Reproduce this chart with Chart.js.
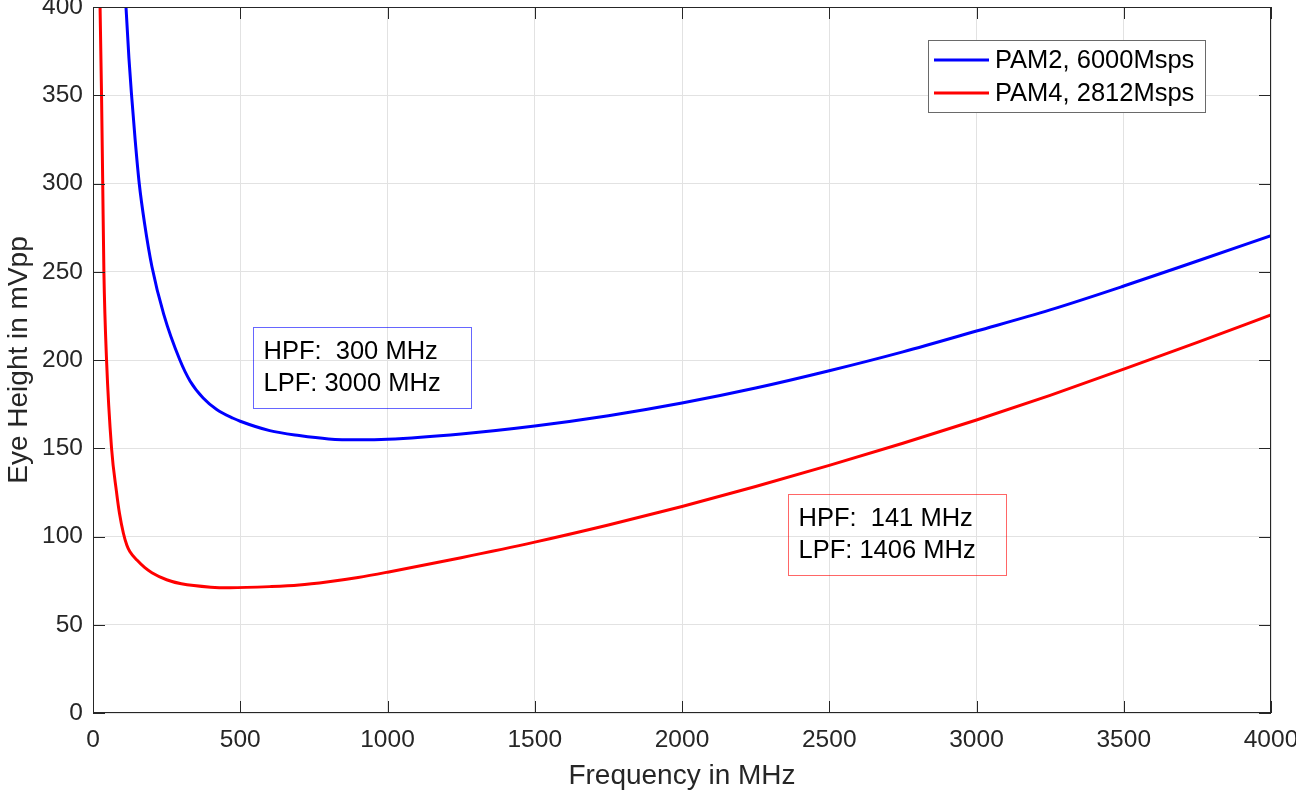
<!DOCTYPE html>
<html>
<head>
<meta charset="utf-8">
<script src="https://cdn.jsdelivr.net/npm/chart.js@4.4.1/dist/chart.umd.min.js"></script>
<style>
  html, body { margin: 0; padding: 0; background: #fff; }
</style>
</head>
<body>
<canvas id="chart" width="1296" height="794"></canvas>
<script>
// PAM2, 6000 Msps (blue)
const pam2Freq = [100, 112, 122, 131, 143, 157, 175, 200, 240, 295, 330, 374, 420, 476, 500, 600, 700, 800, 900, 1000, 1250, 1500, 1750, 2000, 2250, 2500, 2750, 3000, 3250, 3500, 3750, 4000];
const pam2Eye  = [443, 400, 371, 350, 325, 300, 277.5, 253, 226, 200, 188, 178.5, 172, 167, 165.3, 160, 157.2, 155.3, 154.8, 155.1, 158.1, 162.6, 168.4, 175.6, 184.1, 193.9, 204.6, 216.4, 228.4, 241.9, 256.1, 270.4];

// PAM4, 2812 Msps (red)
const pam4Freq = [20, 24, 29, 33, 37, 46, 63, 80, 90, 103, 115, 125, 150, 175, 200, 250, 300, 400, 465, 600, 700, 800, 900, 1000, 1250, 1500, 1750, 2000, 2250, 2500, 2750, 3000, 3250, 3500, 3750, 4000];
const pam4Eye  = [450, 400, 350, 300, 250, 200, 150, 125, 113, 102, 95, 91.5, 86.5, 82.5, 79.5, 75.5, 73.2, 71.3, 71.0, 71.6, 72.5, 74.4, 76.8, 79.8, 88, 96.8, 106.5, 117, 128.3, 140.3, 152.8, 166, 180, 194.8, 210, 225.5];

const seriesLabels = ['PAM2, 6000Msps', 'PAM4, 2812Msps'];
const xTickValues = [0, 500, 1000, 1500, 2000, 2500, 3000, 3500, 4000];
const yTickValues = [0, 50, 100, 150, 200, 250, 300, 350, 400];

// text boxes, anchored at their top-left corner in data units
const notePam2 = ['HPF:  300 MHz', 'LPF: 3000 MHz'];
const notePam4 = ['HPF:  141 MHz', 'LPF: 1406 MHz'];
const notePam2At = [544, 218.5];
const notePam4At = [2361, 124.1];

const FONT = '"Liberation Sans", Arial, Helvetica, sans-serif';
const AXIS = '#262626';

const toXY = (xs, ys) => xs.map((v, i) => ({ x: v, y: ys[i] }));

const matlabFrame = {
  id: 'matlabFrame',
  afterDatasetsDraw(chart) {
    const { ctx, chartArea: a, scales: { x, y } } = chart;
    ctx.save();

    // box + inward ticks on all four sides
    ctx.strokeStyle = AXIS;
    ctx.lineWidth = 1;
    ctx.strokeRect(a.left + 0.5, a.top + 0.5, a.right - a.left - 1, a.bottom - a.top - 1);
    ctx.beginPath();
    xTickValues.forEach(v => {
      const px = Math.round(x.getPixelForValue(v)) + 0.5;
      ctx.moveTo(px, a.bottom); ctx.lineTo(px, a.bottom - 12);
      ctx.moveTo(px, a.top); ctx.lineTo(px, a.top + 12);
    });
    yTickValues.forEach(v => {
      const py = Math.round(y.getPixelForValue(v)) + 0.5;
      ctx.moveTo(a.left, py); ctx.lineTo(a.left + 12, py);
      ctx.moveTo(a.right, py); ctx.lineTo(a.right - 12, py);
    });
    ctx.stroke();

    // legend, top right inside the axes
    const lw = 277, lh = 72;
    const lx = a.right - 66 - lw, ly = a.top + 33;
    ctx.fillStyle = '#fff';
    ctx.fillRect(lx, ly, lw, lh);
    ctx.strokeStyle = '#6a6a6a';
    ctx.strokeRect(lx + 0.5, ly + 0.5, lw, lh);
    ctx.font = '25.5px ' + FONT;
    ctx.textBaseline = 'middle';
    ctx.textAlign = 'left';
    chart.data.datasets.forEach((ds, i) => {
      const cy = ly + 20 + i * 33;
      ctx.strokeStyle = ds.borderColor;
      ctx.lineWidth = 3;
      ctx.beginPath();
      ctx.moveTo(lx + 6, cy); ctx.lineTo(lx + 61, cy);
      ctx.stroke();
      ctx.fillStyle = '#000';
      ctx.fillText(ds.label, lx + 67, cy + 1);
    });

    // annotation text boxes (transparent background)
    const note = (lines, at, edge) => {
      const bx = Math.round(x.getPixelForValue(at[0])) + 0.5;
      const by = Math.round(y.getPixelForValue(at[1])) + 0.5;
      ctx.strokeStyle = edge;
      ctx.lineWidth = 1;
      ctx.strokeRect(bx, by, 218, 81);
      ctx.fillStyle = '#000';
      lines.forEach((t, i) => ctx.fillText(t, bx + 10, by + 24 + i * 32));
    };
    note(notePam2, notePam2At, 'rgba(0,0,255,0.6)');
    note(notePam4, notePam4At, 'rgba(255,0,0,0.6)');

    ctx.restore();
  }
};

new Chart(document.getElementById('chart'), {
  type: 'line',
  data: {
    datasets: [
      { label: seriesLabels[0], data: toXY(pam2Freq, pam2Eye), borderColor: '#0000ff' },
      { label: seriesLabels[1], data: toXY(pam4Freq, pam4Eye), borderColor: '#ff0000' }
    ]
  },
  options: {
    responsive: false,
    animation: false,
    devicePixelRatio: 1,
    layout: { padding: { top: 7, right: 25, left: 0, bottom: 0 } },
    elements: {
      line: { borderWidth: 3, cubicInterpolationMode: 'monotone', fill: false },
      point: { radius: 0, hoverRadius: 0 }
    },
    plugins: {
      legend: { display: false },
      tooltip: { enabled: false }
    },
    scales: {
      x: {
        type: 'linear',
        min: 0,
        max: 4000,
        afterBuildTicks: s => { s.ticks = xTickValues.map(v => ({ value: v })); },
        afterFit: s => { s.height = 81; s.paddingLeft = 0; s.paddingRight = 0; },
        grid: { color: '#e2e2e2', drawTicks: false },
        border: { display: false },
        ticks: { color: AXIS, padding: 13, maxRotation: 0, callback: v => String(v), font: { family: FONT, size: 24.5 } },
        title: {
          display: true,
          text: 'Frequency in MHz',
          color: AXIS,
          padding: { top: 0, bottom: 1 },
          font: { family: FONT, size: 28 }
        }
      },
      y: {
        min: 0,
        max: 400,
        afterBuildTicks: s => { s.ticks = yTickValues.map(v => ({ value: v })); },
        afterFit: s => { s.width = 93; s.paddingTop = 0; s.paddingBottom = 0; },
        grid: { color: '#e2e2e2', drawTicks: false },
        border: { display: false },
        ticks: { color: AXIS, padding: 10, callback: v => String(v), font: { family: FONT, size: 24.5 } },
        title: {
          display: true,
          text: 'Eye Height in mVpp',
          color: AXIS,
          padding: { top: 2, bottom: 0 },
          font: { family: FONT, size: 28 }
        }
      }
    }
  },
  plugins: [matlabFrame]
});
</script>
</body>
</html>
